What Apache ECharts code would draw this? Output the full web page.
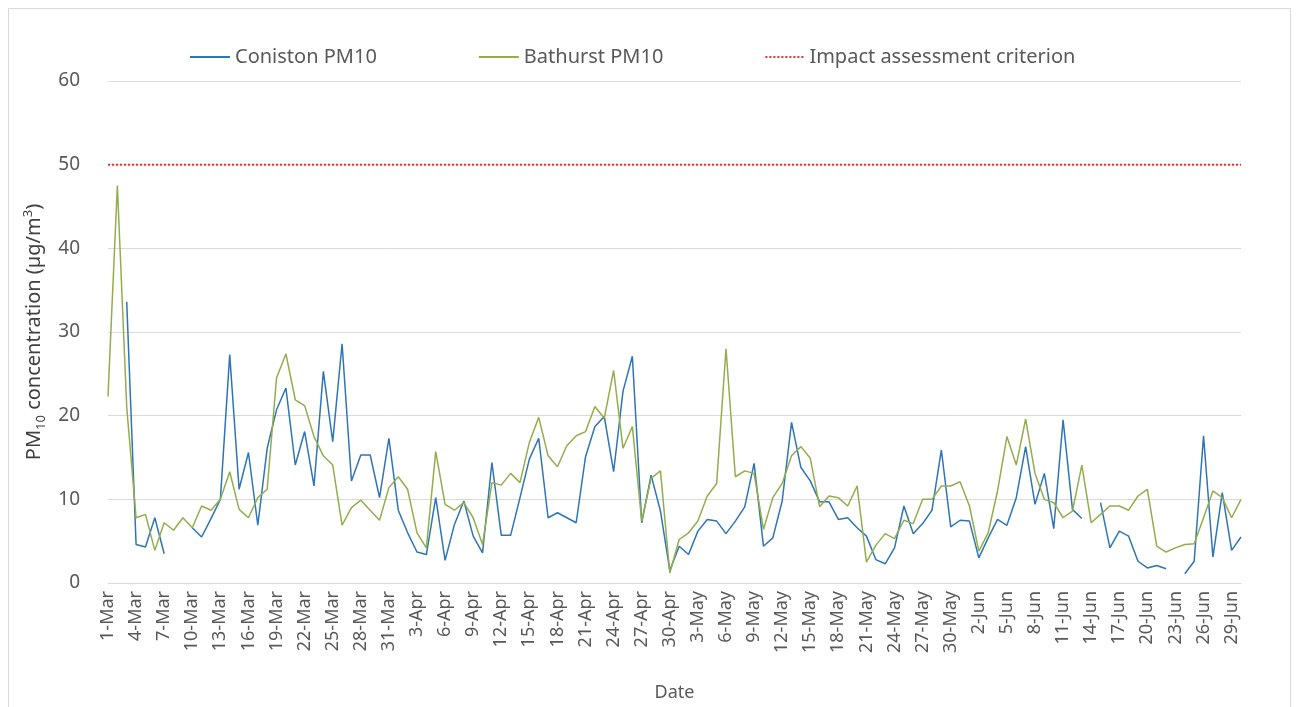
<!DOCTYPE html>
<html>
<head>
<meta charset="utf-8">
<script src="https://cdn.jsdelivr.net/npm/echarts@6/dist/echarts.min.js"></script>
<style>
  html, body { margin: 0; padding: 0; background: #fff; }
  #main { width: 1299px; height: 707px; }
</style>
</head>
<body>
<div id="main"></div>
<script>
// daily dates 1-Mar .. 30-Jun
const monthNames = ['Mar', 'Apr', 'May', 'Jun']
const monthDays = [31, 30, 31, 30]
const dates = []
for (let m = 0; m < monthNames.length; m++) {
  for (let d = 1; d <= monthDays[m]; d++) dates.push(d + '-' + monthNames[m])
}

// PM10 daily values (ug/m3), null = no data
const coniston = [
  null, null, 33.6, 4.6, 4.3, 7.8, 3.5, null, null, 6.6,
  5.5, 7.7, 10.0, 27.3, 11.2, 15.6, 6.9, 16.1, 20.7, 23.3,
  14.1, 18.1, 11.6, 25.3, 16.9, 28.6, 12.2, 15.3, 15.3, 10.2,
  17.3, 8.7, 6.0, 3.7, 3.4, 10.2, 2.7, 7.0, 9.8, 5.6,
  3.6, 14.4, 5.7, 5.7, 10.2, 14.8, 17.3, 7.8, 8.4, 7.8,
  7.2, 15.1, 18.7, 19.9, 13.3, 22.9, 27.1, 7.2, 12.9, 8.6,
  1.5, 4.4, 3.4, 6.2, 7.6, 7.4, 5.9, 7.4, 9.1, 14.3,
  4.4, 5.4, 9.8, 19.2, 13.8, 12.2, 9.7, 9.7, 7.6, 7.8,
  6.6, 5.6, 2.8, 2.3, 4.2, 9.2, 5.9, 7.1, 8.7, 15.9,
  6.7, 7.5, 7.4, 3.0, 5.4, 7.6, 6.9, 10.2, 16.3, 9.4,
  13.1, 6.5, 19.5, 8.8, 7.7, null, 9.6, 4.2, 6.2, 5.6,
  2.6, 1.8, 2.1, 1.7, null, 1.1, 2.6, 17.6, 3.1, 10.8,
  3.9, 5.5
]
const bathurst = [
  22.3, 47.5, 21.0, 7.8, 8.2, 3.9, 7.2, 6.3, 7.8, 6.6,
  9.2, 8.7, 10.0, 13.3, 8.8, 7.8, 10.2, 11.2, 24.5, 27.4,
  21.9, 21.2, 17.5, 15.2, 14.1, 6.9, 9.0, 9.9, 8.7, 7.5,
  11.4, 12.7, 11.2, 6.0, 4.2, 15.7, 9.4, 8.7, 9.6, 7.8,
  4.6, 12.0, 11.7, 13.1, 12.0, 16.8, 19.8, 15.2, 13.9, 16.4,
  17.6, 18.1, 21.1, 19.7, 25.4, 16.1, 18.7, 7.4, 12.5, 13.4,
  1.2, 5.2, 6.0, 7.4, 10.4, 11.9, 28.0, 12.7, 13.4, 13.1,
  6.4, 10.2, 11.9, 15.2, 16.3, 14.9, 9.1, 10.4, 10.2, 9.2,
  11.6, 2.5, 4.5, 5.9, 5.3, 7.5, 7.1, 10.0, 10.0, 11.6,
  11.6, 12.1, 9.2, 3.8, 6.0, 11.0, 17.5, 14.1, 19.6, 13.1,
  10.0, 9.6, 7.8, 8.6, 14.1, 7.2, 8.2, 9.2, 9.2, 8.7,
  10.4, 11.2, 4.4, 3.7, 4.2, 4.6, 4.7, 7.8, 11.0, 10.2,
  7.8, 10.0
]
const criterion = 50

// dotted legend icon for the criterion line
const dotIcon = 'path://M0,0h2v2h-2z M4,0h2v2h-2z M8,0h2v2h-2z M12,0h2v2h-2z M16,0h2v2h-2z M20,0h2v2h-2z M24,0h2v2h-2z M28,0h2v2h-2z M32,0h2v2h-2z M36,0h2v2h-2z'

let chartDom = document.getElementById('main')
let myChart = echarts.init(chartDom)
let option = {
  animation: false,
  textStyle: { fontFamily: 'Noto Sans' },
  graphic: [{
    type: 'rect',
    shape: { x: 8.5, y: 8.5, width: 1282, height: 720 },
    style: { fill: 'none', stroke: '#d9d9d9', lineWidth: 1 }
  }],
  legend: {
    top: 42,
    left: 185,
    itemGap: 102,
    itemWidth: 40,
    itemHeight: 2,
    textStyle: { fontSize: 20, color: '#595959' },
    data: [
      { name: 'Coniston PM10', icon: 'rect' },
      { name: 'Bathurst PM10', icon: 'rect' },
      { name: 'Impact assessment criterion', icon: dotIcon }
    ]
  },
  grid: { left: 108, right: 58, top: 81, bottom: 124, outerBoundsMode: 'none' },
  xAxis: {
    type: 'category',
    boundaryGap: false,
    data: dates,
    name: 'Date',
    nameLocation: 'middle',
    nameGap: 101,
    nameTextStyle: { fontSize: 18, color: '#595959' },
    axisLine: { lineStyle: { color: '#d9d9d9' } },
    axisTick: { show: false },
    axisLabel: { interval: 2, rotate: 90, fontSize: 18, color: '#595959', margin: 8 }
  },
  yAxis: {
    type: 'value',
    min: 0,
    max: 60,
    interval: 10,
    name: '{a|PM}{sub|10}{a| concentration (µg/m}{sup|3}{a|)}',
    nameLocation: 'middle',
    nameGap: 60,
    nameTextStyle: {
      rich: {
        a: { fontSize: 20, color: '#404040', lineHeight: 26, fontFamily: 'Noto Sans' },
        sub: { fontSize: 13, color: '#404040', lineHeight: 26, verticalAlign: 'bottom', fontFamily: 'Noto Sans' },
        sup: { fontSize: 13, color: '#404040', lineHeight: 26, verticalAlign: 'top', fontFamily: 'Noto Sans' }
      }
    },
    axisLabel: { fontSize: 19, color: '#595959', margin: 28 },
    splitLine: { lineStyle: { color: '#d9d9d9' } }
  },
  series: [
    {
      name: 'Coniston PM10',
      type: 'line',
      symbol: 'none',
      data: coniston,
      connectNulls: false,
      itemStyle: { color: '#2E75B6' },
      lineStyle: { color: '#2E75B6', width: 1.5 }
    },
    {
      name: 'Bathurst PM10',
      type: 'line',
      symbol: 'none',
      data: bathurst,
      itemStyle: { color: '#93AD4C' },
      lineStyle: { color: '#93AD4C', width: 1.5 }
    },
    {
      name: 'Impact assessment criterion',
      type: 'line',
      symbol: 'none',
      data: dates.map(() => criterion),
      itemStyle: { color: '#E8322E' },
      lineStyle: { color: '#E8322E', width: 2, type: 'dotted' }
    }
  ]
}
option && myChart.setOption(option)
</script>
</body>
</html>
